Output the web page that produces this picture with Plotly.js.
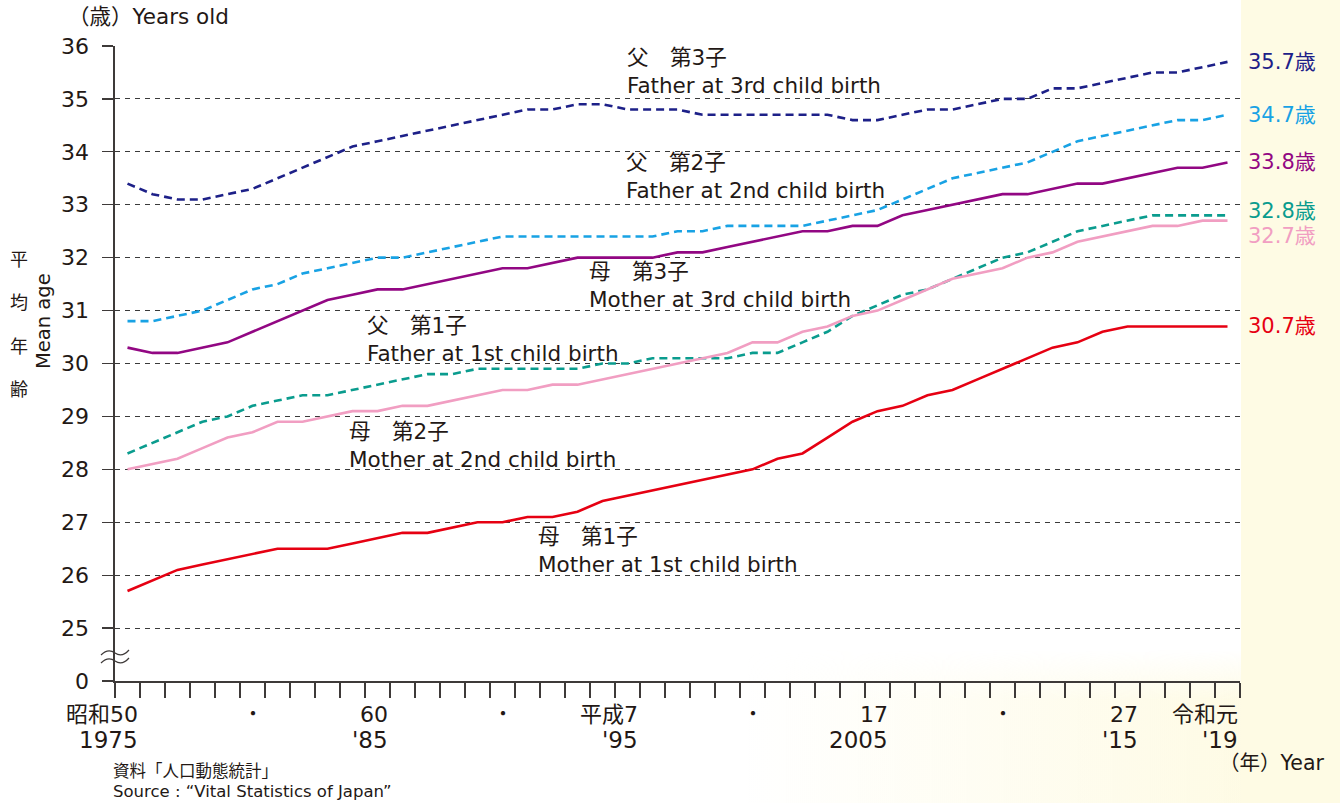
<!DOCTYPE html>
<html>
<head>
<meta charset="utf-8">
<script src="https://cdn.plot.ly/plotly-3.0.1.min.js"></script>
<style>
  html, body { margin: 0; padding: 0; background: #ffffff; }
  #wrap { position: relative; width: 1340px; height: 803px; overflow: hidden; background: #ffffff; }
  #tint {
    position: absolute; left: 0; top: 650px; width: 1241px; height: 153px;
    background: linear-gradient(to right, rgba(254,251,229,0) 60%, #fefbe5 100%);
    -webkit-mask-image: linear-gradient(to bottom, transparent 0, #000 50px);
    mask-image: linear-gradient(to bottom, transparent 0, #000 50px);
  }
  #side { position: absolute; left: 1241px; top: 0; width: 99px; height: 803px; background: #fefbe4; }
  #chart { position: absolute; left: 0; top: 0; width: 1340px; height: 803px; }
</style>
</head>
<body>
<div id="wrap">
  <div id="tint"></div>
  <div id="side"></div>
  <div id="chart"></div>
</div>
<script>
// Survey years (calendar)
const years = [1975, 1976, 1977, 1978, 1979, 1980, 1981, 1982, 1983, 1984,
               1985, 1986, 1987, 1988, 1989, 1990, 1991, 1992, 1993, 1994,
               1995, 1996, 1997, 1998, 1999, 2000, 2001, 2002, 2003, 2004,
               2005, 2006, 2007, 2008, 2009, 2010, 2011, 2012, 2013, 2014,
               2015, 2016, 2017, 2018, 2019];

// Mean age of parents by birth order (years old)
const fatherThird = [33.4, 33.2, 33.1, 33.1, 33.2, 33.3, 33.5, 33.7, 33.9, 34.1,
                     34.2, 34.3, 34.4, 34.5, 34.6, 34.7, 34.8, 34.8, 34.9, 34.9,
                     34.8, 34.8, 34.8, 34.7, 34.7, 34.7, 34.7, 34.7, 34.7, 34.6,
                     34.6, 34.7, 34.8, 34.8, 34.9, 35.0, 35.0, 35.2, 35.2, 35.3,
                     35.4, 35.5, 35.5, 35.6, 35.7];
const fatherSecond = [30.8, 30.8, 30.9, 31.0, 31.2, 31.4, 31.5, 31.7, 31.8, 31.9,
                      32.0, 32.0, 32.1, 32.2, 32.3, 32.4, 32.4, 32.4, 32.4, 32.4,
                      32.4, 32.4, 32.5, 32.5, 32.6, 32.6, 32.6, 32.6, 32.7, 32.8,
                      32.9, 33.1, 33.3, 33.5, 33.6, 33.7, 33.8, 34.0, 34.2, 34.3,
                      34.4, 34.5, 34.6, 34.6, 34.7];
const motherThird = [30.3, 30.2, 30.2, 30.3, 30.4, 30.6, 30.8, 31.0, 31.2, 31.3,
                     31.4, 31.4, 31.5, 31.6, 31.7, 31.8, 31.8, 31.9, 32.0, 32.0,
                     32.0, 32.0, 32.1, 32.1, 32.2, 32.3, 32.4, 32.5, 32.5, 32.6,
                     32.6, 32.8, 32.9, 33.0, 33.1, 33.2, 33.2, 33.3, 33.4, 33.4,
                     33.5, 33.6, 33.7, 33.7, 33.8];
const fatherFirst = [28.3, 28.5, 28.7, 28.9, 29.0, 29.2, 29.3, 29.4, 29.4, 29.5,
                     29.6, 29.7, 29.8, 29.8, 29.9, 29.9, 29.9, 29.9, 29.9, 30.0,
                     30.0, 30.1, 30.1, 30.1, 30.1, 30.2, 30.2, 30.4, 30.6, 30.9,
                     31.1, 31.3, 31.4, 31.6, 31.8, 32.0, 32.1, 32.3, 32.5, 32.6,
                     32.7, 32.8, 32.8, 32.8, 32.8];
const motherSecond = [28.0, 28.1, 28.2, 28.4, 28.6, 28.7, 28.9, 28.9, 29.0, 29.1,
                      29.1, 29.2, 29.2, 29.3, 29.4, 29.5, 29.5, 29.6, 29.6, 29.7,
                      29.8, 29.9, 30.0, 30.1, 30.2, 30.4, 30.4, 30.6, 30.7, 30.9,
                      31.0, 31.2, 31.4, 31.6, 31.7, 31.8, 32.0, 32.1, 32.3, 32.4,
                      32.5, 32.6, 32.6, 32.7, 32.7];
const motherFirst = [25.7, 25.9, 26.1, 26.2, 26.3, 26.4, 26.5, 26.5, 26.5, 26.6,
                     26.7, 26.8, 26.8, 26.9, 27.0, 27.0, 27.1, 27.1, 27.2, 27.4,
                     27.5, 27.6, 27.7, 27.8, 27.9, 28.0, 28.2, 28.3, 28.6, 28.9,
                     29.1, 29.2, 29.4, 29.5, 29.7, 29.9, 30.1, 30.3, 30.4, 30.6,
                     30.7, 30.7, 30.7, 30.7, 30.7];

// Series captions (Japanese / English)
const labelsJa = ['父　第3子', '父　第2子', '母　第3子', '父　第1子', '母　第2子', '母　第1子'];
const labelsEn = ['Father at 3rd child birth', 'Father at 2nd child birth',
                  'Mother at 3rd child birth', 'Father at 1st child birth',
                  'Mother at 2nd child birth', 'Mother at 1st child birth'];

// X-axis labels: Japanese era year over Western year
const tickYears   = [1975, 1980, 1985, 1990, 1995, 2000, 2005, 2010, 2015, 2019];
const tickEra     = ['昭和50', '・', '60', '・', '平成7', '・', '17', '・', '27', '令和元'];
const tickWestern = ['1975', '', "'85", '', "'95", '', '2005', '', "'15", "'19"];

// Y-axis labels (axis is broken between 0 and 25)
const ageTickText = ['0', '25', '26', '27', '28', '29', '30', '31', '32', '33', '34', '35', '36'];

// ---------------------------------------------------------------
const FONT = "'DejaVu Sans', 'Noto Sans CJK JP', sans-serif";
const INK = '#231815';
const AXIS = '#3e3a39';

// Plot-area geometry in pixels
const L = 115, T = 46, W = 1125, H = 635;
const px = p => (p - L) / W;
const py = p => (T + H - p) / H;

const BASE = 24;        // axis position used for the "0" tick below the break
const ageTicks = ageTickText.map((t, i) => BASE + i);

const series = [
  { y: fatherThird,  color: '#1d2088', dash: '8px,5px', yshift: 0 },
  { y: fatherSecond, color: '#18a2e4', dash: '8px,5px', yshift: 0 },
  { y: motherThird,  color: '#920783', dash: 'solid',   yshift: 0 },
  { y: fatherFirst,  color: '#0a9c8e', dash: '8px,5px', yshift: 4 },
  { y: motherSecond, color: '#f19ec2', dash: 'solid',   yshift: -15 },
  { y: motherFirst,  color: '#e60012', dash: 'solid',   yshift: 0 }
];

const traces = series.map((s, i) => ({
  type: 'scatter',
  mode: 'lines',
  x: years,
  y: s.y,
  name: labelsEn[i],
  line: { color: s.color, width: 2.6, dash: s.dash },
  hoverinfo: 'skip'
}));

const annotations = [];

// End-of-line values on the right
series.forEach((s, i) => {
  const last = s.y[s.y.length - 1];
  annotations.push({
    xref: 'paper', yref: 'y', x: px(1246), y: last, yshift: s.yshift,
    xanchor: 'left', yanchor: 'middle', showarrow: false,
    text: last.toFixed(1) + '歳',
    font: { family: FONT, size: 21, color: s.color }
  });
});

// Series captions placed beside their lines
const captionPos = [[625, 71.5], [624, 176.5], [587, 285.5], [365, 339], [347, 445.5], [536, 550]];
captionPos.forEach((p, i) => {
  annotations.push({
    xref: 'paper', yref: 'paper', x: px(p[0]), y: py(p[1]),
    xanchor: 'left', yanchor: 'middle', align: 'left', showarrow: false,
    text: labelsJa[i] + '<br>' + labelsEn[i],
    font: { family: FONT, size: 21.5, color: INK }
  });
});

// X-axis labels (era year above, Western year below)
tickYears.forEach((yr, i) => {
  if (tickEra[i] === '・') {
    annotations.push({
      xref: 'x', yref: 'paper', x: yr, y: py(714),
      xanchor: 'center', yanchor: 'middle', showarrow: false,
      text: '・', font: { family: FONT, size: 20, color: INK }
    });
    return;
  }
  annotations.push({
    xref: 'x', yref: 'paper', x: yr + 0.5, y: py(714),
    xanchor: 'right', yanchor: 'middle', showarrow: false,
    text: tickEra[i], font: { family: FONT, size: 22, color: INK }
  });
  annotations.push({
    xref: 'x', yref: 'paper', x: yr + 0.5, y: py(740),
    xanchor: 'right', yanchor: 'middle', showarrow: false,
    text: tickWestern[i], font: { family: FONT, size: 23, color: INK }
  });
});

// Axis titles and notes
annotations.push(
  { xref: 'paper', yref: 'paper', x: px(66), y: py(16), xanchor: 'left', yanchor: 'middle',
    showarrow: false, text: '（歳）Years old', font: { family: FONT, size: 21.5, color: INK } },
  { xref: 'paper', yref: 'paper', x: px(1326), y: py(763), xanchor: 'right', yanchor: 'middle',
    showarrow: false, text: '（年）Year', font: { family: FONT, size: 20.5, color: INK } },
  { xref: 'paper', yref: 'paper', x: px(43), y: py(321), xanchor: 'center', yanchor: 'middle',
    textangle: -90, showarrow: false, text: 'Mean age', font: { family: FONT, size: 19.5, color: INK } },
  { xref: 'paper', yref: 'paper', x: px(111), y: py(771), xanchor: 'left', yanchor: 'middle',
    showarrow: false, text: '資料「人口動態統計」', font: { family: FONT, size: 16.5, color: INK } },
  { xref: 'paper', yref: 'paper', x: px(111), y: py(791), xanchor: 'left', yanchor: 'middle',
    showarrow: false, text: 'Source : “Vital Statistics of Japan”', font: { family: FONT, size: 16.5, color: INK } }
);
['平', '均', '年', '齢'].forEach((ch, i) => {
  annotations.push({
    xref: 'paper', yref: 'paper', x: px(19), y: py(259 + i * 43.5),
    xanchor: 'center', yanchor: 'middle', showarrow: false,
    text: ch, font: { family: FONT, size: 18, color: INK }
  });
});

// Wavy break marks on the vertical axis
const wave = y0 => 'M' + px(101) + ',' + py(y0 + 2) +
  ' Q' + px(108) + ',' + py(y0 - 5) + ' ' + px(115) + ',' + py(y0) +
  ' T' + px(129) + ',' + py(y0 - 3);
const shapes = [
  { type: 'path', xref: 'paper', yref: 'paper', path: wave(653), line: { color: AXIS, width: 1.2 } },
  { type: 'path', xref: 'paper', yref: 'paper', path: wave(661), line: { color: AXIS, width: 1.2 } }
];

const boundaries = years.map(y => y - 0.5).concat([years[years.length - 1] + 0.5]);

const layout = {
  width: 1340, height: 803,
  margin: { l: L, r: 1340 - L - W, t: T, b: 803 - T - H, pad: 0 },
  paper_bgcolor: 'rgba(0,0,0,0)',
  plot_bgcolor: 'rgba(0,0,0,0)',
  showlegend: false,
  font: { family: FONT, color: INK },
  xaxis: {
    range: [boundaries[0], boundaries[boundaries.length - 1]],
    tickmode: 'array', tickvals: boundaries, showticklabels: false,
    ticks: 'outside', ticklen: 15, tickwidth: 1.2, tickcolor: AXIS,
    showline: true, linecolor: AXIS, linewidth: 1.6,
    showgrid: false, zeroline: false, fixedrange: true
  },
  yaxis: {
    range: [BASE, 36],
    tickmode: 'array', tickvals: ageTicks, ticktext: ageTickText,
    ticks: 'outside', ticklen: 11, tickwidth: 1.2, tickcolor: AXIS,
    ticklabelstandoff: 9,
    tickfont: { family: FONT, size: 22, color: INK },
    showline: true, linecolor: AXIS, linewidth: 1.6,
    showgrid: true, gridcolor: '#3a3a3a', gridwidth: 1, griddash: '5px,5px',
    zeroline: false, fixedrange: true
  },
  annotations: annotations,
  shapes: shapes
};

Plotly.newPlot('chart', traces, layout, { staticPlot: true, displayModeBar: false });
</script>
</body>
</html>
